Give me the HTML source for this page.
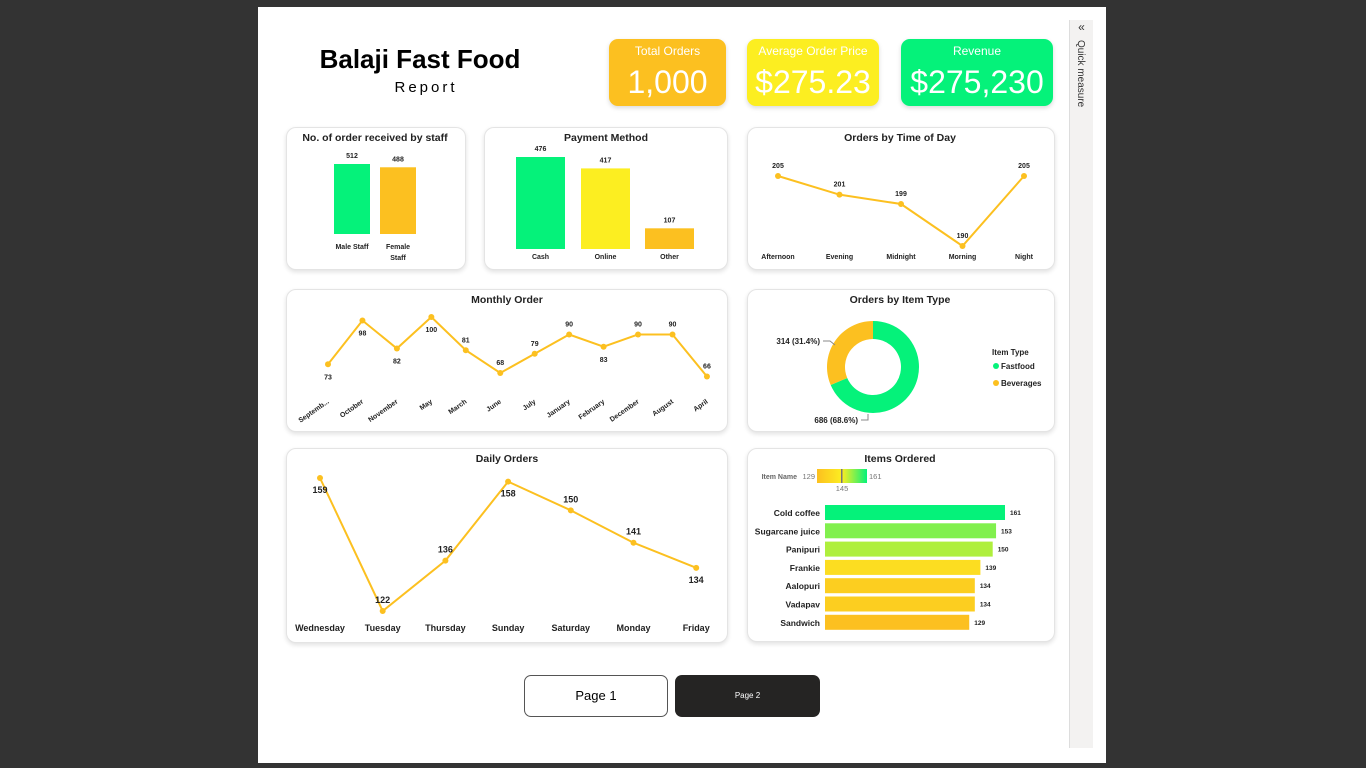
<!DOCTYPE html>
<html><head><meta charset="utf-8"><style>
body{margin:0;width:1366px;height:768px;background:#333;font-family:"Liberation Sans",sans-serif;overflow:hidden;position:relative}
.abs{position:absolute}
.card{position:absolute;background:#fff;border:1px solid #e4e4e4;border-radius:10px;box-shadow:0 2px 5px rgba(0,0,0,0.12)}
.kpi{position:absolute;border-radius:9px;color:#fff;text-align:center;box-shadow:0 2px 5px rgba(0,0,0,0.15)}
.kpi .t{font-size:12px;margin-top:5px}
.kpi .v{font-size:32px;margin-top:6px}
svg text{font-family:"Liberation Sans",sans-serif}
</style></head><body>
<div class="abs" style="left:258px;top:7px;width:848px;height:756px;background:#fff"></div>
<div class="abs" style="left:1069px;top:20px;width:23px;height:728px;background:#f3f2f1;border-left:1px solid #ddd">
<div style="font-size:12px;text-align:center;color:#333">«</div>
<div style="writing-mode:vertical-rl;font-size:10px;color:#333;margin:6px 0 0 5px">Quick measure</div></div>
<div class="abs" style="left:300px;top:44px;width:240px;text-align:center;font-weight:bold;font-size:26px">Balaji Fast Food</div>
<div class="abs" style="left:300px;top:79px;width:252px;text-align:center;font-size:15px;letter-spacing:3px">Report</div>
<div class="kpi" style="left:609px;top:39px;width:117px;height:67px;background:#fcc020"><div class="t">Total Orders</div><div class="v">1,000</div></div>
<div class="kpi" style="left:747px;top:39px;width:132px;height:67px;background:#fcee21"><div class="t">Average Order Price</div><div class="v">$275.23</div></div>
<div class="kpi" style="left:901px;top:39px;width:152px;height:67px;background:#05f27a"><div class="t">Revenue</div><div class="v">$275,230</div></div>

<div class="card" style="left:286px;top:127px;width:178px;height:141px"></div>
<div class="card" style="left:484px;top:127px;width:242px;height:141px"></div>
<div class="card" style="left:747px;top:127px;width:306px;height:141px"></div>
<div class="card" style="left:286px;top:289px;width:440px;height:141px"></div>
<div class="card" style="left:747px;top:289px;width:306px;height:141px"></div>
<div class="card" style="left:286px;top:448px;width:440px;height:193px"></div>
<div class="card" style="left:747px;top:448px;width:306px;height:192px"></div>

<div class="abs" style="left:524px;top:675px;width:142px;height:40px;border:1px solid #555;border-radius:7px;background:#fff;text-align:center;line-height:40px;font-size:13px">Page 1</div>
<div class="abs" style="left:675px;top:675px;width:145px;height:42px;border-radius:7px;background:#252423;color:#fff;text-align:center;line-height:42px;font-size:8px">Page 2</div>

<svg id="s" class="abs" style="left:0;top:0" width="1366" height="768"></svg>
<script>
const staffCats=["Male Staff","Female Staff"];const staffVals=[512,488];
const payCats=["Cash","Online","Other"];const payVals=[476,417,107];
const todCats=["Afternoon","Evening","Midnight","Morning","Night"];const todVals=[205,201,199,190,205];
const monCats=["Septemb...","October","November","May","March","June","July","January","February","December","August","April"];
const monVals=[73,98,82,100,81,68,79,90,83,90,90,66];
const dayCats=["Wednesday","Tuesday","Thursday","Sunday","Saturday","Monday","Friday"];const dayVals=[159,122,136,158,150,141,134];
const typeCats=["Fastfood","Beverages"];const typeVals=[686,314];
const itemCats=["Cold coffee","Sugarcane juice","Panipuri","Frankie","Aalopuri","Vadapav","Sandwich"];const itemVals=[161,153,150,139,134,134,129];

const S=document.getElementById('s');const NS='http://www.w3.org/2000/svg';
function el(t,a,txt){const e=document.createElementNS(NS,t);for(const k in a)e.setAttribute(k,a[k]);if(txt!==undefined)e.textContent=txt;S.appendChild(e);return e;}
function tx(x,y,s,size,anchor,w,name){const e=el('text',{x:x,y:y,'font-size':size,'text-anchor':anchor||'middle','font-weight':w||'bold',fill:'#222'},s);

return e;}
// titles
tx(375,141,"No. of order received by staff",10.5,'middle','bold','staff-title');
tx(606,141,"Payment Method",10.5,'middle','bold','payment-title');
tx(900,141,"Orders by Time of Day",10.5,'middle','bold','time-title');
tx(507,303,"Monthly Order",10.5,'middle','bold','monthly-title');
tx(900,303,"Orders by Item Type",10.5,'middle','bold','itemtype-title');
tx(507,462,"Daily Orders",10.5,'middle','bold','daily-title');
tx(900,462,"Items Ordered",10.5,'middle','bold','items-title');
// staff bars
{const base=234,k=70/512,xs=[334,380],cols=['#05f27a','#fcc020'];
staffVals.forEach((v,i)=>{const h=v*k;const r=el('rect',{x:xs[i],y:base-h,width:36,height:h,fill:cols[i]});

tx(xs[i]+18,base-h-6,String(v),7,'middle','bold','staff-value');});
tx(352,249,"Male Staff",7,'middle','bold','staff-cat');tx(398,249,"Female",7,'middle','bold','staff-cat');tx(398,260,"Staff",7,'middle','bold','staff-cat');}
// payment
{const base=249,k=92/476,xs=[516,581,645],cols=['#05f27a','#fcee21','#fcc020'];
payVals.forEach((v,i)=>{const h=v*k;const r=el('rect',{x:xs[i],y:base-h,width:49,height:h,fill:cols[i]});

tx(xs[i]+24.5,base-h-6,String(v),7,'middle','bold','payment-value');tx(xs[i]+24.5,259,payCats[i],7,'middle','bold','payment-cat');});}
function line(cats,vals,xf,yf,name,labelPos,lblSize,catY,catSize,rot){
const pts=vals.map((v,i)=>xf(i)+','+yf(v)).join(' ');
const p=el('polyline',{points:pts,fill:'none',stroke:'#fcc020','stroke-width':2});

vals.forEach((v,i)=>{const c=el('circle',{cx:xf(i),cy:yf(v),r:3,fill:'#fcc020'});

const below=labelPos(i);tx(xf(i),yf(v)+(below?15:-8),String(v),lblSize,'middle','bold',name+'-value');
if(rot){const t=tx(xf(i),catY,cats[i],catSize,'end','bold',name+'-cat');t.setAttribute('transform','rotate(-35 '+(xf(i)+8)+' '+catY+')');}
else tx(xf(i),catY,cats[i],catSize,'middle','bold',name+'-cat');});}
line(todCats,todVals,i=>778+i*61.5,v=>246-(v-190)*70/15,'time',i=>false,7,259,7,false);
const monBelow=[1,1,1,1,0,0,0,0,1,0,0,0];
line(monCats,monVals,i=>328+i*34.45,v=>373-(v-68)*1.75,'monthly',i=>monBelow[i],7,398,7,true);
const dayBelow=[1,0,0,1,0,0,1];
line(dayCats,dayVals,i=>320+i*62.7,v=>611-(v-122)*133/37,'daily',i=>dayBelow[i],9,631,9,false);
// daily: tuesday label above
// donut
{const cx=873,cy=367,R=46,r=28,tot=typeVals.reduce((a,b)=>a+b,0),cols=['#05f27a','#fcc020'];let a0=-Math.PI/2;
typeVals.forEach((v,i)=>{const a1=a0+v/tot*2*Math.PI;const lg=(a1-a0)>Math.PI?1:0;
const P=(rad,a)=>(cx+rad*Math.cos(a)).toFixed(2)+' '+(cy+rad*Math.sin(a)).toFixed(2);
const d='M'+P(R,a0)+' A'+R+' '+R+' 0 '+lg+' 1 '+P(R,a1)+' L'+P(r,a1)+' A'+r+' '+r+' 0 '+lg+' 0 '+P(r,a0)+'Z';
const s=el('path',{d:d,fill:cols[i]});a0=a1;});
const pct=v=>(v/tot*100).toFixed(1);
tx(820,344,typeVals[1]+' ('+pct(typeVals[1])+'%)',8,'end','bold','donut-label');
el('polyline',{points:'823,341 830,341 835,345',fill:'none',stroke:'#888'});
tx(858,423,typeVals[0]+' ('+pct(typeVals[0])+'%)',8,'end','bold','donut-label');
el('polyline',{points:'861,420 868,420 868,414',fill:'none',stroke:'#888'});
tx(992,355,"Item Type",8,'start','bold','legend-title');
typeCats.forEach((c,i)=>{el('circle',{cx:996,cy:366+i*17,r:3,fill:cols[i]});tx(1001,369+i*17,c,8,'start','bold','legend-entry');});}
// items
{const defs=el('defs',{});defs.innerHTML='<linearGradient id="g"><stop offset="0" stop-color="#fcc020"/><stop offset="0.5" stop-color="#fcee21"/><stop offset="1" stop-color="#05f27a"/></linearGradient>';
el('rect',{x:817,y:469,width:50,height:14,fill:'url(#g)'});el('rect',{x:841,y:469,width:1.5,height:14,fill:'#777'});
tx(797,479,"Item Name",7,'end','bold','legend-title').setAttribute('fill','#666');
tx(815,479,"129",7.5,'end','normal','legend-min').setAttribute('fill','#777');
tx(869,479,"161",7.5,'start','normal','legend-max').setAttribute('fill','#777');
tx(842,491,"145",7.5,'middle','normal','legend-mid').setAttribute('fill','#777');
const mn=129,mx=161,k=180/161;
function col(v){const t=(v-mn)/(mx-mn);let a,b,u;if(t<0.5){a=[252,192,32];b=[252,238,33];u=t*2}else{a=[252,238,33];b=[5,242,122];u=(t-0.5)*2}
return 'rgb('+a.map((c,j)=>Math.round(c+(b[j]-c)*u)).join(',')+')';}
itemVals.forEach((v,i)=>{const y=505+i*18.3;const r=el('rect',{x:825,y:y,width:v*k,height:15,fill:col(v)});

tx(820,y+11,itemCats[i],8.5,'end','bold','item-name');tx(825+v*k+5,y+10,String(v),6.5,'start','bold','item-value');});}
</script>
</body></html>
